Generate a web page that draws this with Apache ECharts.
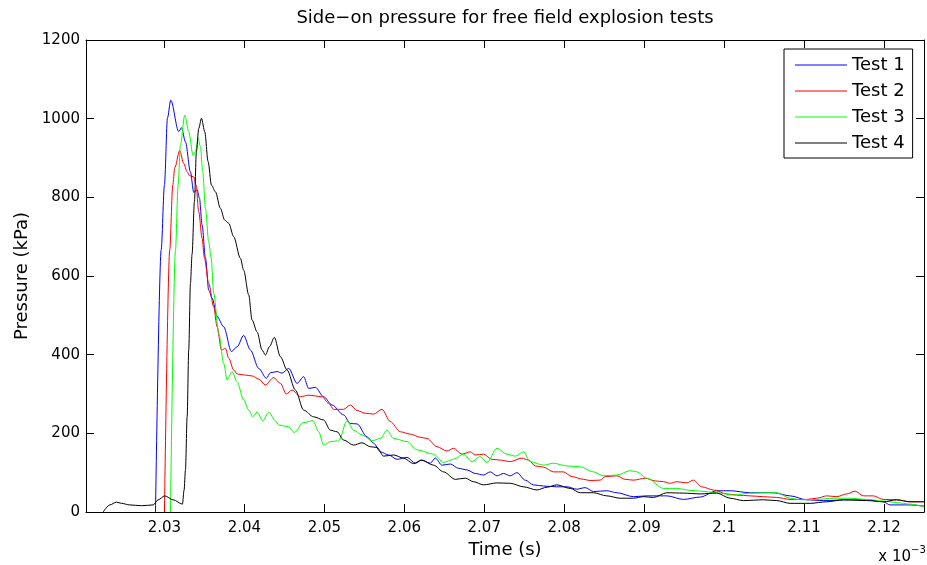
<!DOCTYPE html>
<html><head><meta charset="utf-8">
<script src="https://cdn.jsdelivr.net/npm/echarts@6/dist/echarts.min.js"></script>
<style>html,body{margin:0;padding:0;background:#fff}#c{width:927px;height:565px}</style>
</head><body><div id="c"></div>
<script>
const chartTitle = 'Side\u2212on pressure for free field explosion tests';
const seriesNames = ['Test 1', 'Test 2', 'Test 3', 'Test 4'];
const seriesColors = ['#0000ff', '#ff0000', '#00ff00', '#000000'];
const xTickValues = [2.03, 2.04, 2.05, 2.06, 2.07, 2.08, 2.09, 2.1, 2.11, 2.12];
const yTickValues = [0, 200, 400, 600, 800, 1000, 1200];

// Time (x 10^-3 s) and pressure (kPa)
const test1Time = [2.02888,2.02959,2.0300,2.03038,2.03079,2.03179,2.03213,2.03263,2.03325,2.03366,2.03409,2.03438,2.03471,2.03513,2.03554,2.03596,2.03659,2.03741,2.03838,2.03909,2.03991,2.04075,2.04179,2.04275,2.04325,2.04409,2.04471,2.04554,2.04659,2.04741,2.04804,2.04888,2.04991,2.05096,2.05241,2.05325,2.05409,2.05534,2.05616,2.057,2.05804,2.05909,2.06034,2.06138,2.06221,2.06325,2.06388,2.06471,2.06575,2.06679,2.06784,2.06888,2.06991,2.07075,2.07159,2.07241,2.07325,2.07409,2.07513,2.07616,2.07741,2.07909,2.08034,2.08159,2.08263,2.08366,2.08534,2.08659,2.08866,2.09034,2.09284,2.09491,2.097,2.09909,2.10075,2.10325,2.10616,2.10825,2.11034,2.11241,2.11575,2.11784,2.11991,2.12075,2.12325,2.125];
const test1Pressure = [0,666,831,1002,1047,967,977,941,865,813,819,798,730,646,564,544,497,471,408,420,449,412,365,340,354,357,353,365,327,344,314,317,293,272,247,225,224,191,175,153,145,134,139,124,132,124,137,119,122,111,107,98,94,102,92,98,92,100,81,69,66,64,64,58,62,52,54,49,39,41,41,32,38,54,54,49,49,41,31,29,31,31,26,18,18,15];

const test2Time = [2.0300,2.03066,2.03104,2.03129,2.03191,2.03241,2.03284,2.03316,2.03366,2.03396,2.03429,2.03471,2.0350,2.03554,2.03616,2.03659,2.03713,2.03763,2.03804,2.03866,2.03909,2.04013,2.04096,2.04179,2.04263,2.04366,2.0445,2.04525,2.04596,2.047,2.04804,2.04971,2.05054,2.05116,2.05241,2.05325,2.05409,2.05513,2.05616,2.05721,2.05825,2.0595,2.06075,2.062,2.06284,2.06409,2.06534,2.06616,2.06721,2.06825,2.06888,2.06991,2.07096,2.072,2.07325,2.07471,2.07554,2.07638,2.07741,2.07866,2.07991,2.08096,2.08241,2.08325,2.0845,2.08513,2.08659,2.08763,2.08866,2.09013,2.09138,2.09241,2.09325,2.09409,2.09534,2.09616,2.09721,2.09866,2.10034,2.10159,2.10325,2.10491,2.10659,2.10825,2.11034,2.11159,2.11284,2.11409,2.11534,2.11638,2.11741,2.11866,2.11991,2.12159,2.12325,2.125];
const test2Pressure = [0,666,831,875,919,886,865,855,852,831,763,696,646,581,522,471,412,416,391,361,351,348,346,338,323,342,327,300,310,293,297,293,276,261,261,272,258,251,249,261,230,204,198,190,187,166,155,162,147,153,145,147,134,132,128,137,132,117,114,102,102,90,83,80,81,90,92,83,81,86,79,77,73,77,74,81,64,56,46,43,41,39,37,32,32,35,41,39,46,53,41,41,32,31,26,26];

const test3Time = [2.03075,2.03138,2.03171,2.0320,2.03254,2.03304,2.03359,2.03388,2.03421,2.0345,2.03479,2.03513,2.03554,2.03584,2.03616,2.03679,2.03741,2.03784,2.03846,2.03909,2.03991,2.04054,2.04104,2.04159,2.04231,2.04304,2.04388,2.04429,2.04554,2.04625,2.04734,2.04859,2.04929,2.04991,2.05075,2.05179,2.05284,2.05366,2.05471,2.05596,2.057,2.05784,2.05866,2.06034,2.06159,2.06366,2.06491,2.06616,2.06741,2.06846,2.0695,2.07034,2.07159,2.07284,2.07388,2.07491,2.07575,2.07741,2.07866,2.08034,2.082,2.08366,2.08491,2.08659,2.08825,2.08909,2.09034,2.09241,2.09409,2.09575,2.097,2.09909,2.10116,2.10325,2.10534,2.10659,2.10825,2.1095,2.11159,2.11366,2.11575,2.11784,2.11991,2.12159,2.12325,2.125];
const test3Pressure = [0,666,831,933,1009,967,906,916,950,929,865,772,687,646,556,454,378,336,357,331,285,259,242,254,232,254,232,221,217,202,227,232,204,170,179,181,232,208,196,181,187,208,187,179,158,147,126,134,147,128,141,126,162,147,142,153,128,119,124,117,115,102,92,94,105,102,86,60,60,55,53,49,43,48,49,49,35,31,32,35,35,32,28,24,20,13];

const test4Time = [2.02234,2.02316,2.0240,2.02463,2.02566,2.02713,2.02859,2.02921,2.03004,2.03109,2.03225,2.03246,2.03263,2.03284,2.03304,2.03325,2.03346,2.03375,2.034,2.03429,2.03463,2.03504,2.03546,2.03588,2.03638,2.037,2.03754,2.03804,2.03866,2.0395,2.03991,2.04054,2.04096,2.04159,2.04221,2.04263,2.04313,2.04375,2.0445,2.04534,2.04638,2.04741,2.04866,2.04991,2.05075,2.05159,2.05241,2.05366,2.05471,2.05575,2.05659,2.05741,2.05866,2.05991,2.06116,2.06213,2.06366,2.06491,2.06638,2.06763,2.06866,2.06991,2.07159,2.07325,2.07491,2.07659,2.07784,2.07909,2.08075,2.082,2.08366,2.08534,2.0870,2.08866,2.08991,2.09116,2.09284,2.09491,2.097,2.09909,2.10075,2.10241,2.10491,2.10659,2.10825,2.11075,2.11284,2.11491,2.11784,2.11991,2.12159,2.12325,2.125];
const test4Pressure = [0,18,25,22,18,16,18,31,41,31,20,56,107,242,412,581,656,789,916,975,1001,967,891,831,814,772,742,734,700,645,615,552,488,458,412,399,420,444,395,361,310,259,242,234,208,204,183,170,176,166,164,142,145,137,123,132,119,102,83,86,77,69,74,73,64,56,63,69,60,49,49,41,35,35,39,37,49,48,46,48,35,29,31,29,22,22,26,31,29,26,31,26,26];

const allTimes = [test1Time, test2Time, test3Time, test4Time];
const allPressures = [test1Pressure, test2Pressure, test3Pressure, test4Pressure];

const FONT = 'DejaVu Sans';
const chart = echarts.init(document.getElementById('c'), null, {renderer: 'canvas'});

const xAxisBase = {
  type: 'value', min: 2.02019, max: 2.125,
  axisLine: {show: true, onZero: false, lineStyle: {color: '#000', width: 1}},
  axisTick: {show: true, inside: true, length: 8, customValues: xTickValues, lineStyle: {color: '#000'}},
  splitLine: {show: false}
};
const yAxisBase = {
  type: 'value', min: 0, max: 1200, interval: 200,
  axisLine: {show: true, onZero: false, lineStyle: {color: '#000', width: 1}},
  axisTick: {show: true, inside: true, length: 8, customValues: yTickValues, lineStyle: {color: '#000'}},
  splitLine: {show: false}
};

chart.setOption({
  animation: false,
  backgroundColor: '#fff',
  title: {
    text: chartTitle, left: 505, top: 9, textAlign: 'center', padding: 0,
    textStyle: {fontFamily: FONT, fontSize: 18, fontWeight: 'normal', color: '#000'}
  },
  grid: {left: 86, right: 3, top: 40, bottom: 53, containLabel: false},
  legend: {
    data: seriesNames, orient: 'vertical', left: 784, top: 49,
    padding: [6, 8, 5, 11], itemWidth: 52, itemHeight: 1, itemGap: 6,
    icon: 'rect',
    backgroundColor: '#fff', borderColor: '#000', borderWidth: 1,
    textStyle: {fontFamily: FONT, fontSize: 18, color: '#000', lineHeight: 20}
  },
  xAxis: [
    Object.assign({}, xAxisBase, {
      position: 'bottom',
      name: 'Time (s)', nameLocation: 'middle', nameGap: 26,
      nameTextStyle: {fontFamily: FONT, fontSize: 18, color: '#000'},
      axisLabel: {show: true, customValues: xTickValues, margin: 9,
        fontFamily: FONT, fontSize: 15, color: '#000',
        formatter: v => String(Math.round(v * 1000) / 1000)}
    }),
    Object.assign({}, xAxisBase, {position: 'top', axisLabel: {show: false}})
  ],
  yAxis: [
    Object.assign({}, yAxisBase, {
      position: 'left',
      name: 'Pressure (kPa)', nameLocation: 'middle', nameGap: 51,
      nameTextStyle: {fontFamily: FONT, fontSize: 18, color: '#000'},
      axisLabel: {show: true, customValues: yTickValues, margin: 6, fontFamily: FONT, fontSize: 15, color: '#000',
        formatter: v => String(v)}
    }),
    Object.assign({}, yAxisBase, {position: 'right', axisLabel: {show: false}})
  ],
  graphic: [
    {type: 'text', style: {text: 'x 10', x: 911, y: 557, align: 'right', verticalAlign: 'middle',
      font: '15px "DejaVu Sans"', fill: '#000'}},
    {type: 'text', style: {text: '\u22123', x: 911, y: 550, align: 'left', verticalAlign: 'middle',
      font: '10px "DejaVu Sans"', fill: '#000'}}
  ],
  series: seriesNames.map((name, i) => ({
    name: name, type: 'line', xAxisIndex: 0, yAxisIndex: 0,
    data: allTimes[i].map((t, k) => [t, allPressures[i][k]]),
    symbol: 'none', smooth: 0.3, smoothMonotone: 'x',
    lineStyle: {color: seriesColors[i], width: 1},
    itemStyle: {color: seriesColors[i]},
    clip: true
  }))
});
</script>
</body></html>
